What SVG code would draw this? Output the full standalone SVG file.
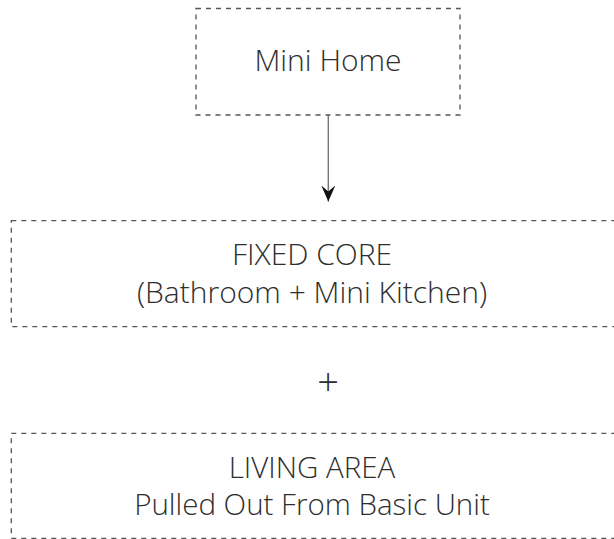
<svg xmlns="http://www.w3.org/2000/svg" width="614" height="539" viewBox="0 0 614 539">
<defs>
<style>
.box{fill:#fff;stroke:#555;stroke-width:1.3;stroke-dasharray:5 5}
.t{font-family:"Open Sans","Liberation Sans",sans-serif;font-weight:300;font-size:30px;fill:#2e2e2e;text-anchor:middle}
.s{font-size:29.5px}
.c{stroke:#777;stroke-width:1.4;fill:none}
</style>
<marker id="ah" viewBox="0 0 14 16" refX="7" refY="16" markerWidth="14" markerHeight="16" markerUnits="userSpaceOnUse" orient="0">
<path d="M0,0 L7,6 L14,0 L7,16 Z" fill="#111"/>
</marker>
</defs>
<rect width="614" height="539" fill="#fff"/>
<g id="connectors">
<line class="c" x1="328.3" y1="115" x2="328.3" y2="201.5" marker-end="url(#ah)"/>
</g>
<g id="mini-home">
<rect class="box" x="196" y="8.5" width="264" height="106.5"/>
<text class="t" x="328" y="71">Mini Home</text>
</g>
<g id="fixed-core">
<rect class="box" x="11.3" y="220.7" width="620" height="106"/>
<text class="t" x="312" y="265">FIXED CORE</text>
<text class="t" x="312" y="303">(Bathroom + Mini Kitchen)</text>
</g>
<g id="plus">
<text class="t" x="328" y="396" style="font-size:38px">+</text>
</g>
<g id="living-area">
<rect class="box" x="11.3" y="433.3" width="620" height="105"/>
<text class="t s" x="312" y="477.5">LIVING AREA</text>
<text class="t s" x="312" y="514.5">Pulled Out From Basic Unit</text>
</g>
</svg>
